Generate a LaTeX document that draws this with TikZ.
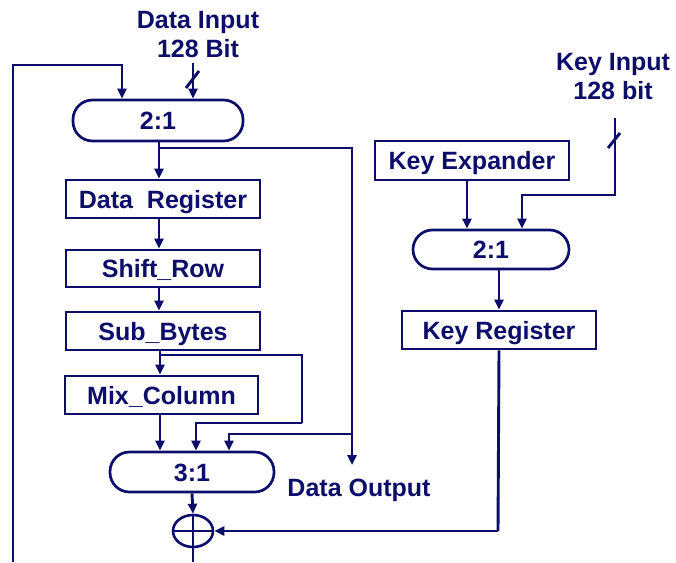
\documentclass[tikz,border=0pt]{standalone}
\usepackage{fontspec}
\setmainfont{Liberation Sans}
\usetikzlibrary{arrows.meta,calc,shapes.geometric}
\definecolor{navy}{HTML}{0D0D6B}
\begin{document}
\begin{tikzpicture}[x=1pt,y=-1pt,
  every node/.style={font=\fontsize{25}{29}\selectfont\bfseries, text=navy},
  blk/.style={draw=navy, line width=2.7pt, inner sep=0pt, text height=18pt, text depth=0pt},
  mux/.style={blk, rounded corners=19.5pt},
  wire/.style={draw=navy, line width=2.9pt},
  arr/.style={wire, -{Triangle[length=10pt,width=9pt]}}]
\useasboundingbox (0,0) rectangle (676,562);
% nodes
\node[mux, minimum width=170pt, minimum height=41pt] (mux1) at (158,120.5) {2:1};
\node[blk, minimum width=194pt, minimum height=38pt] (dreg) at (163,199) {Data\ \ Register};
\node[blk, minimum width=194pt, minimum height=37pt] (shift) at (163,268.5) {Shift\_Row};
\node[blk, minimum width=194pt, minimum height=38pt] (sub) at (163,331) {Sub\_Bytes};
\node[blk, minimum width=193pt, minimum height=38pt] (mix) at (161.5,395) {Mix\_Column};
\node[mux, minimum width=164pt, minimum height=40pt] (mux3) at (192,472) {3:1};
\node[blk, minimum width=194pt, minimum height=39pt] (kexp) at (472,160.5) {Key Expander};
\node[mux, minimum width=156pt, minimum height=39pt] (mux2) at (491,249.5) {2:1};
\node[blk, minimum width=194pt, minimum height=38pt] (kreg) at (499,330) {Key Register};
\node[draw=navy, line width=2.6pt, ellipse, minimum width=40pt, minimum height=32pt, inner sep=0pt] (xor) at (193,531) {};
\draw[wire, line width=2.3pt] (xor.north) -- (xor.south) (xor.west) -- (xor.east);
% labels
\node[align=center] (dinl) at (198,35) {Data Input\\128 Bit};
\node[align=center] (kinl) at (613,77) {Key Input\\128 bit};
\node[text height=18pt, text depth=0pt, inner sep=0pt] (doutl) at (359,487) {Data Output};
% coordinates
\coordinate (fbb) at (13,562);
\coordinate (fbt) at (13,65);
\coordinate (din) at (193,63);
\coordinate (x159) at (159,0);
\coordinate (x160) at (160,0);
\coordinate (dob) at (352,148);
\coordinate (dout) at (352,465);
\coordinate (j1) at (352,434);
\coordinate (c1) at (302,355);
\coordinate (c2) at (302,423);
\coordinate (xb) at (193,562);
\coordinate (kin) at (615,118);
\coordinate (kb) at (615,195);
\coordinate (kc) at (498,531);
% data path
\draw[arr] (fbb) -- (fbt) -| ([xshift=-36pt]mux1.north);
\draw[arr] (din) -- (din |- mux1.north);
\draw[wire] (186,88) -- (199,71);
\draw[arr] (x159 |- mux1.south) -- (x159 |- dreg.north);
\draw[wire] (x159 |- dob) -- (dob) -- (j1);
\draw[arr] (j1) -- (dout);
\draw[arr] (j1) -| ([xshift=37pt]mux3.north);
\draw[arr] (x159 |- dreg.south) -- (x159 |- shift.north);
\draw[arr] (x159 |- shift.south) -- (x159 |- sub.north);
\draw[arr] (x160 |- sub.south) -- (x160 |- mix.north);
\draw[wire] (x160 |- c1) -- (c1) -- (c2);
\draw[arr] (c2) -| ([xshift=4pt]mux3.north);
\draw[arr] (x160 |- mix.south) -- (x160 |- mux3.north);
\draw[arr] (mux3.south) -- (xor.north);
\draw[wire] (xor.south) -- (xb);
% key path
\draw[arr] (kin) -- (kb) -| ([xshift=31pt]mux2.north);
\draw[wire] (608,148) -- (620,133);
\draw[arr] ([xshift=-5pt]kexp.south) -- ([xshift=-24pt]mux2.north);
\draw[arr] ([xshift=8pt]mux2.south) -- ([xshift=8pt]mux2.south |- kreg.north);
\draw[wire] (kreg.south) -- (kc);
\draw[arr] (kc) -- (xor.east);
\end{tikzpicture}
\end{document}
